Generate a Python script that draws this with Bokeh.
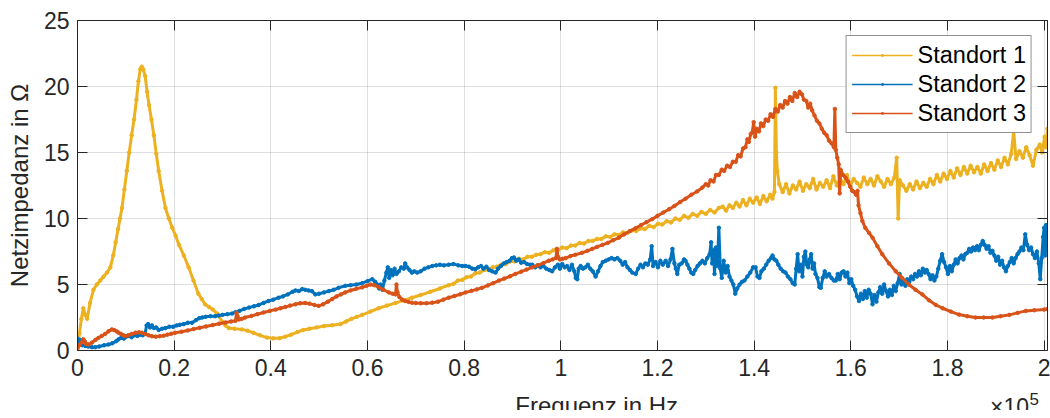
from bokeh.plotting import figure
from bokeh.layouts import column
from bokeh.models import (Range1d, FixedTicker, CustomJSTickFormatter, LinearAxis, Label,
                          Legend, LegendItem)
from bokeh.embed import file_html
from bokeh.resources import INLINE

# ---------------- data (x in units of 1e5 Hz, impedance in Ohm) ----------------
x_ticks = [0, 0.2, 0.4, 0.6, 0.8, 1.0, 1.2, 1.4, 1.6, 1.8, 2.0]
y_ticks = [0, 5, 10, 15, 20, 25]
series_names = ["Standort 1", "Standort 2", "Standort 3"]
series_colors = ["#EDB120", "#0072BD", "#D95319"]

standort1 = [
    (0.000, 0.1), (0.004, 1.3), (0.008, 2.4), (0.012, 3.2), (0.016, 2.7), (0.020, 2.4), (0.026, 3.6),
    (0.033, 4.6), (0.040, 5.0), (0.047, 5.3), (0.054, 5.6), (0.061, 5.9), (0.068, 6.3), (0.074, 7.2),
    (0.079, 8.2), (0.084, 9.2), (0.088, 10.0), (0.092, 10.8), (0.097, 12.2), (0.102, 13.6), (0.107, 15.0),
    (0.112, 16.3), (0.117, 17.5), (0.122, 19.0), (0.126, 20.4), (0.130, 21.3), (0.133, 21.5), (0.136, 21.3),
    (0.140, 20.8), (0.144, 19.6), (0.148, 18.6), (0.153, 17.5), (0.158, 16.3), (0.163, 14.9), (0.168, 13.6),
    (0.175, 12.1), (0.182, 10.8), (0.189, 10.0), (0.196, 9.3), (0.203, 8.7), (0.210, 8.0), (0.220, 7.2),
    (0.230, 6.3), (0.240, 5.3), (0.250, 4.3), (0.257, 3.9), (0.264, 3.5), (0.272, 3.3), (0.280, 3.1),
    (0.289, 2.8), (0.299, 2.2), (0.306, 1.9), (0.313, 1.7), (0.325, 1.65), (0.340, 1.6), (0.352, 1.5),
    (0.364, 1.34), (0.378, 1.15), (0.392, 0.98), (0.405, 0.92), (0.418, 0.93), (0.430, 1.05), (0.442, 1.2),
    (0.455, 1.4), (0.467, 1.55), (0.480, 1.65), (0.495, 1.75), (0.510, 1.85), (0.527, 1.92), (0.544, 2.0),
    (0.556, 2.2), (0.567, 2.4), (0.578, 2.55), (0.589, 2.7), (0.606, 2.95), (0.623, 3.2), (0.640, 3.4),
    (0.658, 3.6), (0.675, 3.8), (0.692, 4.0), (0.710, 4.2), (0.730, 4.45), (0.750, 4.7), (0.768, 4.95),
    (0.778, 5.05), (0.787, 5.3), (0.796, 5.35), (0.805, 5.55), (0.814, 5.6), (0.823, 5.85), (0.832, 5.9),
    (0.841, 6.1), (0.850, 6.1), (0.859, 6.3), (0.868, 6.35), (0.877, 6.5), (0.886, 6.55), (0.895, 6.75),
    (0.904, 6.75), (0.913, 6.95), (0.922, 6.9), (0.931, 7.1), (0.940, 7.1), (0.949, 7.25), (0.958, 7.3),
    (0.967, 7.45), (0.976, 7.4), (0.985, 7.6), (0.994, 7.6), (1.003, 7.8), (1.012, 7.75), (1.021, 7.95),
    (1.030, 7.95), (1.039, 8.15), (1.048, 8.1), (1.057, 8.3), (1.066, 8.3), (1.075, 8.45), (1.084, 8.45),
    (1.093, 8.65), (1.102, 8.6), (1.111, 8.8), (1.120, 8.75), (1.129, 8.95), (1.138, 8.9), (1.147, 9.1),
    (1.156, 9.05), (1.165, 9.25), (1.174, 9.2), (1.183, 9.45), (1.192, 9.35), (1.201, 9.6), (1.210, 9.55),
    (1.219, 9.8), (1.228, 9.7), (1.237, 10.0), (1.246, 9.9), (1.255, 10.2), (1.264, 10.05), (1.273, 10.35),
    (1.282, 10.2), (1.291, 10.5), (1.300, 10.35), (1.309, 10.65), (1.318, 10.45), (1.327, 10.8),
    (1.335, 10.9), (1.342, 10.6), (1.349, 11.0), (1.356, 10.8), (1.363, 11.2), (1.370, 10.9), (1.377, 11.4),
    (1.384, 11.0), (1.391, 11.5), (1.398, 11.2), (1.405, 11.6), (1.412, 11.1), (1.419, 11.7), (1.426, 11.3),
    (1.433, 11.8), (1.438, 11.5), (1.442, 12.0), (1.444, 19.9), (1.446, 15.0), (1.448, 13.6), (1.452, 12.6),
    (1.459, 12.0), (1.466, 12.6), (1.473, 11.9), (1.480, 12.5), (1.487, 12.2), (1.494, 12.8), (1.501, 12.1),
    (1.508, 12.6), (1.515, 12.3), (1.522, 13.0), (1.529, 12.2), (1.536, 12.7), (1.543, 12.4), (1.550, 12.9),
    (1.557, 12.3), (1.564, 13.2), (1.571, 12.5), (1.578, 13.0), (1.585, 12.6), (1.592, 13.3), (1.599, 12.5),
    (1.606, 13.0), (1.613, 12.7), (1.620, 12.4), (1.627, 13.1), (1.634, 12.6), (1.641, 13.0), (1.648, 12.5),
    (1.655, 13.2), (1.662, 12.8), (1.669, 12.4), (1.676, 13.0), (1.683, 12.6), (1.690, 13.1), (1.695, 14.6),
    (1.698, 10.0), (1.701, 12.9), (1.708, 12.5), (1.715, 12.1), (1.722, 12.6), (1.729, 12.2), (1.736, 12.8),
    (1.743, 12.3), (1.750, 12.7), (1.757, 12.4), (1.764, 13.0), (1.771, 12.6), (1.778, 13.3), (1.785, 12.8),
    (1.792, 13.4), (1.799, 13.0), (1.806, 13.6), (1.813, 13.1), (1.820, 13.8), (1.827, 13.3), (1.834, 13.9),
    (1.841, 13.4), (1.848, 14.0), (1.855, 13.5), (1.862, 13.9), (1.869, 13.4), (1.876, 14.1), (1.883, 13.6),
    (1.890, 14.2), (1.897, 13.7), (1.904, 14.4), (1.911, 13.9), (1.918, 14.6), (1.925, 14.1), (1.932, 14.9),
    (1.937, 16.6), (1.942, 14.5), (1.949, 15.1), (1.956, 14.6), (1.963, 15.4), (1.970, 14.8), (1.977, 14.0),
    (1.984, 15.2), (1.991, 15.6), (1.996, 15.0), (2.001, 16.2), (2.004, 15.4), (2.007, 16.8),
]

standort2 = [
    (0.000, 0.9), (0.003, 0.5), (0.006, 0.8), (0.010, 0.4), (0.016, 0.35), (0.022, 0.3), (0.030, 0.25),
    (0.037, 0.25), (0.045, 0.3), (0.055, 0.4), (0.064, 0.45), (0.072, 0.55), (0.080, 0.7), (0.085, 0.85),
    (0.090, 0.95), (0.096, 0.9), (0.101, 1.05), (0.106, 1.1), (0.112, 1.0), (0.118, 1.15), (0.124, 1.1),
    (0.130, 1.2), (0.135, 1.15), (0.140, 1.3), (0.143, 1.9), (0.146, 2.0), (0.150, 1.75), (0.154, 1.9),
    (0.158, 1.7), (0.163, 1.75), (0.168, 1.55), (0.175, 1.65), (0.182, 1.7), (0.190, 1.8), (0.198, 1.8),
    (0.205, 1.9), (0.212, 1.95), (0.220, 2.0), (0.228, 2.1), (0.237, 2.1), (0.245, 2.3), (0.252, 2.45),
    (0.258, 2.5), (0.265, 2.55), (0.275, 2.6), (0.285, 2.6), (0.292, 2.65), (0.300, 2.7), (0.310, 2.75),
    (0.320, 2.8), (0.327, 2.9), (0.335, 3.0), (0.345, 3.15), (0.355, 3.25), (0.365, 3.35), (0.375, 3.45),
    (0.385, 3.6), (0.395, 3.75), (0.405, 3.85), (0.416, 4.0), (0.425, 4.1), (0.435, 4.25), (0.445, 4.45),
    (0.451, 4.55), (0.458, 4.5), (0.465, 4.65), (0.471, 4.6), (0.478, 4.55), (0.485, 4.5), (0.492, 4.25),
    (0.500, 4.3), (0.510, 4.4), (0.520, 4.5), (0.530, 4.6), (0.540, 4.75), (0.554, 4.9), (0.565, 4.95),
    (0.577, 5.0), (0.589, 5.1), (0.600, 5.25), (0.610, 5.4), (0.616, 5.2), (0.620, 5.0), (0.624, 4.7),
    (0.627, 5.0), (0.631, 4.6), (0.635, 5.3), (0.639, 5.9), (0.642, 6.3), (0.645, 5.5), (0.648, 6.1),
    (0.652, 5.7), (0.656, 6.2), (0.660, 5.8), (0.665, 6.0), (0.670, 6.3), (0.675, 6.2), (0.678, 6.6),
    (0.682, 6.3), (0.687, 6.1), (0.692, 5.9), (0.697, 6.0), (0.703, 5.9), (0.710, 6.0), (0.718, 6.2),
    (0.726, 6.3), (0.734, 6.4), (0.742, 6.45), (0.750, 6.5), (0.758, 6.45), (0.768, 6.5), (0.778, 6.55),
    (0.788, 6.45), (0.796, 6.4), (0.803, 6.4), (0.810, 6.35), (0.817, 6.2), (0.823, 6.15), (0.829, 6.3),
    (0.835, 6.4), (0.840, 6.2), (0.846, 6.35), (0.852, 6.1), (0.858, 6.0), (0.865, 5.9), (0.870, 6.2),
    (0.876, 6.4), (0.882, 6.6), (0.888, 6.7), (0.894, 6.8), (0.899, 7.0), (0.903, 7.05), (0.908, 6.8),
    (0.913, 6.9), (0.918, 6.65), (0.924, 6.7), (0.930, 6.55), (0.936, 6.5), (0.941, 6.5), (0.947, 6.3),
    (0.952, 6.45), (0.958, 6.3), (0.964, 6.4), (0.970, 6.2), (0.976, 6.1), (0.982, 6.0), (0.988, 6.3),
    (0.994, 6.5), (0.998, 6.2), (1.003, 6.55), (1.008, 6.3), (1.013, 6.4), (1.018, 6.1), (1.023, 6.5),
    (1.028, 6.0), (1.031, 5.5), (1.034, 5.4), (1.037, 6.2), (1.041, 6.4), (1.046, 6.2), (1.051, 6.3),
    (1.056, 6.5), (1.061, 6.2), (1.066, 6.0), (1.072, 5.6), (1.077, 6.0), (1.082, 6.4), (1.087, 6.7),
    (1.093, 6.8), (1.099, 6.9), (1.105, 7.0), (1.111, 6.9), (1.117, 7.0), (1.123, 6.8), (1.128, 6.5),
    (1.133, 6.7), (1.138, 6.3), (1.143, 6.1), (1.148, 5.9), (1.155, 5.8), (1.160, 6.2), (1.165, 6.5),
    (1.170, 6.3), (1.175, 6.6), (1.180, 6.5), (1.185, 6.9), (1.188, 7.9), (1.191, 6.4), (1.196, 6.7),
    (1.201, 6.3), (1.206, 6.8), (1.211, 6.5), (1.217, 6.8), (1.222, 6.4), (1.227, 6.9), (1.231, 7.7),
    (1.235, 6.6), (1.238, 6.2), (1.241, 5.8), (1.245, 6.5), (1.250, 6.6), (1.255, 6.9), (1.258, 6.8),
    (1.262, 6.5), (1.266, 6.2), (1.270, 5.9), (1.274, 5.8), (1.278, 6.1), (1.283, 6.4), (1.288, 6.6),
    (1.293, 6.8), (1.298, 6.6), (1.303, 7.0), (1.308, 7.3), (1.311, 8.2), (1.313, 6.6), (1.316, 7.6),
    (1.318, 5.8), (1.321, 7.8), (1.324, 6.4), (1.327, 9.3), (1.330, 6.2), (1.333, 5.5), (1.337, 6.8),
    (1.341, 5.9), (1.345, 6.4), (1.349, 5.6), (1.353, 5.3), (1.357, 5.0), (1.361, 4.3), (1.365, 4.7),
    (1.370, 5.0), (1.375, 5.2), (1.380, 5.3), (1.386, 5.6), (1.392, 5.9), (1.398, 6.3), (1.403, 6.3),
    (1.407, 5.6), (1.411, 5.5), (1.415, 6.0), (1.420, 6.2), (1.425, 6.5), (1.430, 6.8), (1.435, 7.0),
    (1.438, 7.2), (1.442, 6.9), (1.446, 6.8), (1.450, 6.5), (1.455, 6.2), (1.460, 6.0), (1.465, 5.9),
    (1.470, 5.6), (1.475, 5.4), (1.480, 5.1), (1.484, 5.0), (1.487, 6.2), (1.490, 7.3), (1.493, 6.0),
    (1.497, 6.5), (1.500, 5.6), (1.503, 7.1), (1.506, 7.5), (1.509, 6.5), (1.512, 6.3), (1.515, 6.9),
    (1.518, 7.3), (1.521, 6.2), (1.524, 6.6), (1.527, 5.8), (1.531, 5.5), (1.535, 4.8), (1.538, 4.75),
    (1.542, 5.5), (1.546, 6.0), (1.550, 5.6), (1.555, 5.8), (1.560, 5.5), (1.565, 5.3), (1.569, 5.3),
    (1.573, 5.8), (1.577, 5.4), (1.581, 5.9), (1.585, 6.0), (1.589, 5.6), (1.593, 5.9), (1.597, 5.1),
    (1.601, 5.4), (1.605, 4.9), (1.609, 4.6), (1.613, 4.1), (1.617, 3.75), (1.621, 4.3), (1.625, 3.9),
    (1.629, 4.5), (1.633, 4.0), (1.637, 4.6), (1.641, 4.3), (1.645, 3.5), (1.649, 4.2), (1.653, 3.7),
    (1.657, 4.4), (1.661, 4.8), (1.665, 4.3), (1.669, 5.0), (1.673, 4.5), (1.677, 4.1), (1.681, 4.6),
    (1.685, 4.2), (1.689, 4.9), (1.693, 4.5), (1.697, 5.1), (1.701, 5.8), (1.705, 5.0), (1.709, 5.3),
    (1.713, 4.9), (1.717, 5.4), (1.721, 5.2), (1.725, 5.6), (1.729, 5.4), (1.733, 5.8), (1.737, 5.6),
    (1.741, 6.0), (1.745, 5.7), (1.749, 6.2), (1.753, 5.9), (1.757, 6.1), (1.761, 5.8), (1.765, 5.4),
    (1.769, 5.7), (1.773, 5.3), (1.777, 5.6), (1.781, 6.2), (1.785, 6.8), (1.789, 7.3), (1.793, 6.7),
    (1.797, 6.3), (1.801, 5.8), (1.805, 6.4), (1.809, 6.0), (1.813, 6.5), (1.817, 6.9), (1.821, 6.6),
    (1.825, 7.0), (1.829, 7.2), (1.833, 6.9), (1.837, 7.3), (1.841, 7.4), (1.845, 7.7), (1.849, 7.5),
    (1.853, 7.8), (1.857, 7.6), (1.861, 7.9), (1.865, 7.6), (1.869, 8.0), (1.873, 8.3), (1.877, 8.0),
    (1.881, 7.7), (1.885, 7.9), (1.889, 7.4), (1.893, 7.55), (1.897, 7.2), (1.901, 6.8), (1.905, 7.1),
    (1.909, 6.5), (1.913, 6.8), (1.917, 6.3), (1.921, 6.0), (1.925, 6.4), (1.929, 6.7), (1.933, 7.0),
    (1.937, 6.6), (1.941, 7.0), (1.945, 7.3), (1.949, 7.5), (1.953, 7.8), (1.957, 7.6), (1.961, 8.8),
    (1.965, 8.0), (1.969, 7.6), (1.973, 7.8), (1.977, 7.3), (1.981, 7.0), (1.985, 7.5), (1.989, 6.6),
    (1.992, 5.4), (1.995, 7.0), (1.998, 8.6), (2.000, 9.3), (2.002, 7.2), (2.004, 9.5), (2.006, 8.3),
    (2.007, 7.5),
]

standort3 = [
    (0.000, 0.2), (0.004, 0.4), (0.008, 0.6), (0.012, 0.85), (0.015, 0.7), (0.018, 0.5), (0.023, 0.45),
    (0.030, 0.6), (0.037, 0.8), (0.043, 0.95), (0.050, 1.1), (0.057, 1.25), (0.064, 1.45), (0.071, 1.6),
    (0.076, 1.55), (0.081, 1.45), (0.085, 1.35), (0.090, 1.25), (0.095, 1.15), (0.099, 1.1), (0.105, 1.15),
    (0.112, 1.25), (0.120, 1.35), (0.127, 1.38), (0.133, 1.35), (0.140, 1.25), (0.147, 1.15), (0.154, 1.08),
    (0.162, 1.05), (0.170, 1.08), (0.178, 1.12), (0.186, 1.2), (0.194, 1.27), (0.202, 1.34), (0.215, 1.42),
    (0.228, 1.52), (0.240, 1.62), (0.253, 1.72), (0.266, 1.82), (0.280, 1.93), (0.293, 2.03), (0.306, 2.12),
    (0.318, 2.2), (0.327, 2.25), (0.329, 2.85), (0.331, 2.6), (0.334, 2.35), (0.340, 2.4), (0.347, 2.5),
    (0.360, 2.62), (0.372, 2.75), (0.385, 2.88), (0.398, 3.0), (0.410, 3.1), (0.420, 3.2), (0.430, 3.3),
    (0.440, 3.4), (0.451, 3.5), (0.461, 3.58), (0.471, 3.6), (0.480, 3.55), (0.490, 3.45), (0.499, 3.38),
    (0.508, 3.5), (0.518, 3.7), (0.527, 3.9), (0.536, 4.1), (0.545, 4.25), (0.554, 4.4), (0.565, 4.55),
    (0.577, 4.68), (0.589, 4.78), (0.598, 4.9), (0.606, 5.0), (0.614, 4.95), (0.623, 4.8), (0.633, 4.6),
    (0.644, 4.4), (0.652, 4.3), (0.658, 4.25), (0.660, 5.0), (0.662, 4.4), (0.666, 4.05), (0.672, 3.85),
    (0.678, 3.75), (0.685, 3.68), (0.692, 3.62), (0.700, 3.6), (0.710, 3.58), (0.722, 3.58), (0.734, 3.62),
    (0.746, 3.7), (0.757, 3.85), (0.768, 4.0), (0.780, 4.13), (0.792, 4.26), (0.803, 4.4), (0.815, 4.52),
    (0.826, 4.63), (0.837, 4.75), (0.849, 4.93), (0.860, 5.1), (0.872, 5.3), (0.883, 5.45), (0.895, 5.62),
    (0.906, 5.8), (0.918, 5.97), (0.929, 6.13), (0.941, 6.3), (0.952, 6.45), (0.964, 6.62), (0.975, 6.8),
    (0.983, 6.9), (0.990, 7.0), (0.992, 7.7), (0.994, 7.1), (0.998, 6.9), (1.004, 6.95), (1.010, 7.0),
    (1.020, 7.15), (1.030, 7.25), (1.044, 7.4), (1.055, 7.55), (1.065, 7.7), (1.075, 7.85), (1.086, 8.0),
    (1.097, 8.15), (1.108, 8.35), (1.120, 8.55), (1.131, 8.8), (1.143, 9.05), (1.154, 9.25), (1.166, 9.5),
    (1.177, 9.72), (1.189, 9.95), (1.200, 10.2), (1.212, 10.45), (1.224, 10.7), (1.235, 10.95), (1.247, 11.25),
    (1.258, 11.5), (1.270, 11.8), (1.282, 12.05), (1.293, 12.35), (1.300, 12.6), (1.305, 12.5), (1.310, 12.9),
    (1.316, 12.8), (1.321, 13.3), (1.327, 13.3), (1.333, 13.7), (1.338, 13.6), (1.344, 14.0), (1.350, 13.9),
    (1.356, 14.3), (1.362, 14.3), (1.367, 14.8), (1.372, 14.7), (1.377, 15.3), (1.382, 15.4), (1.386, 16.0),
    (1.389, 15.8), (1.393, 16.4), (1.396, 16.5), (1.399, 17.3), (1.402, 16.2), (1.405, 16.8), (1.410, 16.6),
    (1.414, 17.2), (1.419, 17.0), (1.424, 17.5), (1.429, 17.4), (1.434, 17.9), (1.439, 17.7), (1.444, 18.3),
    (1.449, 18.1), (1.454, 18.6), (1.459, 18.4), (1.464, 18.9), (1.469, 18.7), (1.474, 19.2), (1.479, 18.9),
    (1.484, 19.5), (1.489, 19.2), (1.494, 19.6), (1.499, 19.4), (1.503, 19.0), (1.508, 18.9), (1.512, 18.4),
    (1.516, 18.7), (1.520, 18.2), (1.525, 17.8), (1.530, 17.4), (1.535, 17.2), (1.540, 16.8), (1.545, 16.5),
    (1.550, 16.3), (1.555, 15.9), (1.560, 15.7), (1.565, 15.4), (1.567, 18.3), (1.569, 15.2), (1.572, 14.6),
    (1.575, 14.1), (1.577, 11.9), (1.579, 13.7), (1.584, 13.3), (1.589, 13.1), (1.594, 12.8), (1.599, 12.4),
    (1.603, 12.1), (1.607, 12.0), (1.611, 11.8), (1.614, 12.1), (1.616, 11.0), (1.620, 10.4), (1.624, 9.8),
    (1.630, 9.3), (1.638, 8.9), (1.645, 8.55), (1.655, 7.9), (1.665, 7.3), (1.679, 6.6), (1.693, 6.0),
    (1.706, 5.5), (1.720, 5.0), (1.734, 4.6), (1.748, 4.25), (1.762, 3.8), (1.776, 3.45), (1.790, 3.2),
    (1.807, 2.95), (1.824, 2.72), (1.841, 2.6), (1.858, 2.5), (1.875, 2.5), (1.893, 2.5), (1.910, 2.6),
    (1.928, 2.7), (1.945, 2.85), (1.962, 3.0), (1.980, 3.05), (2.000, 3.1), (2.007, 3.15),
]

series_points = [standort1, standort2, standort3]
x_title = "Frequenz in Hz"
y_title = "Netzimpedanz in Ω"
exponent_base = "×10"
exponent_power = "5"

# ---------------- main figure ----------------
FONT = "Liberation Sans"
AX = "#262626"
FS = "23px"
X_END = 2.007
NAN = float("nan")
W = 1050
H_MAIN = 385
H_FOOT = 25

p = figure(width=W, height=H_MAIN, output_backend="svg", toolbar_location=None, title=None,
           x_range=Range1d(0, X_END), y_range=Range1d(0, 25),
           min_border_left=77, min_border_right=3, min_border_top=20, min_border_bottom=35,
           background_fill_color="white", border_fill_color="white")
p.outline_line_color = None

xt = FixedTicker(ticks=x_ticks)
yt = FixedTicker(ticks=y_ticks)
fmt = CustomJSTickFormatter(code="return (Math.round(tick*10)/10).toString();")
blank = CustomJSTickFormatter(code="return '';")

def style_axis(ax):
    ax.axis_line_color = AX
    ax.axis_line_width = 1
    ax.major_tick_line_color = AX
    ax.major_tick_in = 10
    ax.major_tick_out = 0
    ax.minor_tick_line_color = None
    ax.major_label_text_font = FONT
    ax.major_label_text_color = AX
    ax.major_label_text_font_size = FS

xa = p.xaxis[0]
ya = p.yaxis[0]
xa.ticker = xt
xa.formatter = fmt
ya.ticker = yt
style_axis(xa)
style_axis(ya)
xa.major_label_standoff = 8
ya.major_label_standoff = 8
ya.axis_label = y_title
ya.axis_label_text_font = FONT
ya.axis_label_text_font_size = "24px"
ya.axis_label_text_font_style = "normal"
ya.axis_label_text_color = AX
ya.axis_label_standoff = 8

top = LinearAxis(ticker=xt, formatter=blank)
right = LinearAxis(ticker=yt, formatter=blank)
for ax in (top, right):
    style_axis(ax)
    ax.major_label_standoff = 0
p.add_layout(top, "above")
p.add_layout(right, "right")

p.xgrid.ticker = xt
p.ygrid.ticker = yt
for g in (p.xgrid, p.ygrid):
    g.grid_line_color = AX
    g.grid_line_alpha = 0.15
    g.grid_line_width = 1

items = []
for name, color, pts in zip(series_names, series_colors, series_points):
    xs = [a for a, b in pts]
    ys = [b for a, b in pts]
    p.line(xs, ys, line_color=color, line_width=3)
    p.scatter(xs, ys, marker="circle", size=3.5, fill_color=color, line_color=color)
    # legend-only glyphs (thin line with a small dot, MATLAB '.-' style); NaN -> nothing drawn in plot
    lg_line = p.line([NAN], [NAN], line_color=color, line_width=1.5)
    lg_dot = p.scatter([NAN], [NAN], marker="dot", size=12, line_color=color, fill_color=color)
    items.append(LegendItem(label=name, renderers=[lg_line, lg_dot]))

leg = Legend(items=items, location="top_right", margin=15)
leg.border_line_color = AX
leg.border_line_width = 1
leg.background_fill_color = "white"
leg.background_fill_alpha = 1
leg.label_text_font = FONT
leg.label_text_font_size = "23.5px"
leg.label_text_color = "black"
leg.glyph_width = 61
leg.glyph_height = 28
leg.label_height = 28
leg.spacing = 1
leg.padding = 5
leg.label_standoff = 5
p.add_layout(leg)

# ---------------- footer strip: x title and MATLAB-style exponent ----------------
# footer coordinates are plain pixels (1 unit = 1 px) of the strip under the axes
foot = figure(width=W, height=H_FOOT, output_backend="svg", toolbar_location=None, title=None,
              x_range=Range1d(0, W), y_range=Range1d(0, H_FOOT),
              x_axis_location=None, y_axis_location=None,
              min_border=0, min_border_left=0, min_border_right=0, min_border_top=0, min_border_bottom=0,
              background_fill_color="white", border_fill_color="white")
foot.outline_line_color = None
foot.xgrid.visible = False
foot.ygrid.visible = False

foot.add_layout(Label(x=562, y=5.5, text=x_title, text_align="center", text_baseline="alphabetic",
                      text_font=FONT, text_font_size="24px", text_color=AX))
foot.add_layout(Label(x=1030, y=4, text=exponent_base, text_align="right", text_baseline="alphabetic",
                      text_font=FONT, text_font_size=FS, text_color=AX))
foot.add_layout(Label(x=1030.5, y=12, text=exponent_power, text_align="left", text_baseline="alphabetic",
                      text_font=FONT, text_font_size="17px", text_color=AX))

layout = column(p, foot, spacing=0)
open("out.html", "w").write(file_html(layout, INLINE))
